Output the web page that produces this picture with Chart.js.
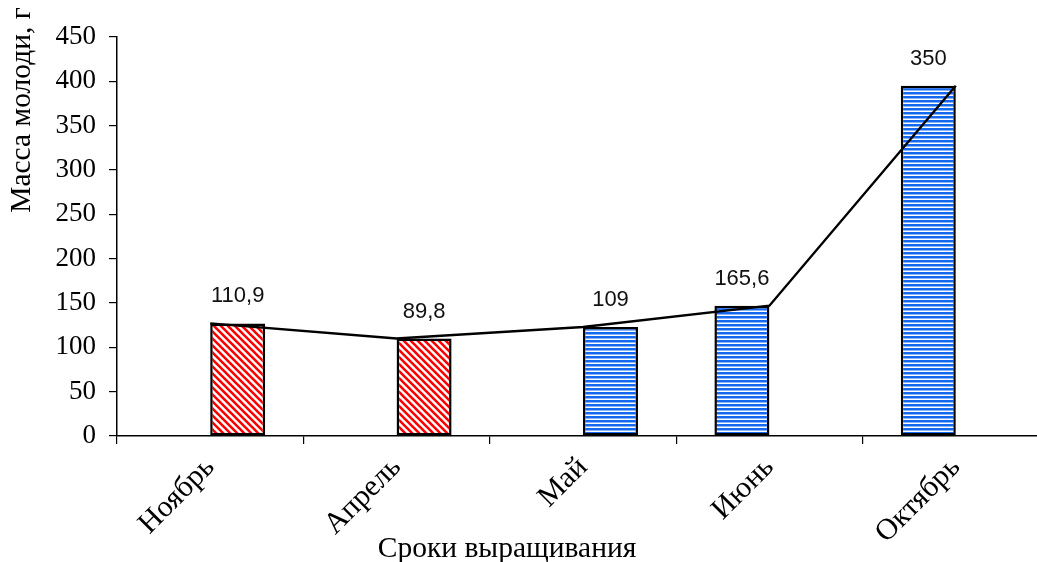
<!DOCTYPE html>
<html>
<head>
<meta charset="utf-8">
<script src="https://cdn.jsdelivr.net/npm/chart.js@4/dist/chart.umd.min.js"></script>
<style>
  html, body { margin: 0; padding: 0; background: #fff; overflow: hidden; }
  #wrap { width: 1037px; height: 562px; overflow: hidden; }
  canvas { display: block; }
</style>
</head>
<body>
<div id="wrap"><canvas id="chart" width="1062" height="562"></canvas></div>
<script>
// Growing periods (x categories)
const categories = ['Ноябрь', 'Апрель', 'Май', 'Июнь', 'Октябрь'];
// Fry mass, g — bars in the left slot of each group
const massLeftSlot = [null, null, null, 147, 395];
// Fry mass, g — bars in the right slot of each group
const massRightSlot = [127, 110, 123, null, null];
// Trend line through the bar tops
const trendLine = [127, 110, 123, 147, 395];
// Numbers printed above the bars
const barNotes = ['110,9', '89,8', '109', '165,6', '350'];
// Y axis range
const yMin = 0, yMax = 450, yStep = 50;

const axisTitleY = 'Масса молоди, г';
const axisTitleX = 'Сроки выращивания';

// Hatch fills
function redDiagonal() {
  const s = 7;
  const c = document.createElement('canvas');
  c.width = s; c.height = s;
  const g = c.getContext('2d');
  g.fillStyle = '#ffffff';
  g.fillRect(0, 0, s, s);
  g.strokeStyle = '#ff0000';
  g.lineWidth = 2.6;
  g.beginPath();
  g.moveTo(-1, -1); g.lineTo(s + 1, s + 1);
  g.moveTo(-1, s - 1); g.lineTo(1, s + 1);
  g.moveTo(s - 1, -1); g.lineTo(s + 1, 1);
  g.stroke();
  return g.createPattern(c, 'repeat');
}
function blueHorizontal() {
  const c = document.createElement('canvas');
  c.width = 4; c.height = 4;
  const g = c.getContext('2d');
  g.fillStyle = '#ffffff';
  g.fillRect(0, 0, 4, 4);
  g.fillStyle = '#1569f0';
  g.fillRect(0, 0, 4, 2.5);
  return g.createPattern(c, 'repeat');
}
const RED = redDiagonal();
const BLUE = blueHorizontal();
const fillFor = categories.map((_, i) => (i < 2 ? RED : BLUE));

const SERIF = '"Liberation Serif", "Times New Roman", serif';
const SANS = '"Liberation Sans", Arial, sans-serif';

// Numbers above bars
const notesPlugin = {
  id: 'barNotes',
  afterDatasetsDraw(chart) {
    const ctx = chart.ctx;
    ctx.save();
    ctx.font = '22px ' + SANS;
    ctx.fillStyle = '#111';
    ctx.textAlign = 'center';
    ctx.textBaseline = 'middle';
    categories.forEach((_, i) => {
      [1, 2].forEach(di => {
        const ds = chart.data.datasets[di];
        if (ds.data[i] == null) return;
        const bar = chart.getDatasetMeta(di).data[i];
        ctx.fillText(barNotes[i], bar.x, bar.y - 27);
      });
    });
    ctx.restore();
  }
};

// Axis titles
const titlesPlugin = {
  id: 'axisTitles',
  afterDraw(chart) {
    const ctx = chart.ctx;
    ctx.save();
    ctx.fillStyle = '#000';
    ctx.font = '29.5px ' + SERIF;
    ctx.textAlign = 'center';
    ctx.textBaseline = 'middle';
    ctx.fillText(axisTitleX, 507, 549);
    ctx.translate(22, 110);
    ctx.rotate(-Math.PI / 2);
    ctx.fillText(axisTitleY, 0, 0);
    ctx.restore();
  }
};

new Chart(document.getElementById('chart'), {
  data: {
    labels: categories,
    datasets: [
      {
        type: 'line',
        data: trendLine,
        borderColor: '#000',
        borderWidth: 2.4,
        pointRadius: 0,
        tension: 0,
        fill: false
      },
      {
        type: 'bar',
        data: massLeftSlot,
        backgroundColor: fillFor,
        borderColor: '#000',
        borderWidth: 2.5,
        borderSkipped: false
      },
      {
        type: 'bar',
        data: massRightSlot,
        backgroundColor: fillFor,
        borderColor: '#000',
        borderWidth: 2.5,
        borderSkipped: false
      }
    ]
  },
  options: {
    responsive: false,
    animation: false,
    datasets: { bar: { categoryPercentage: 0.59, barPercentage: 1.0 } },
    layout: { padding: { top: 37, right: 13, bottom: 0, left: 0 } },
    plugins: { legend: { display: false }, tooltip: { enabled: false } },
    scales: {
      x: {
        type: 'category',
        offset: true,
        grid: { display: true, drawOnChartArea: false, drawTicks: true, tickLength: 8, color: '#000', lineWidth: 1.2, offset: true },
        border: { display: true, color: '#000', width: 1.5 },
        ticks: { autoSkip: false, minRotation: 45, maxRotation: 45, padding: 6, color: '#000', font: { family: SERIF, size: 30 } },
        afterFit(scale) { scale.height = 126; }
      },
      y: {
        min: yMin,
        max: yMax,
        grid: { display: true, drawOnChartArea: false, drawTicks: true, tickLength: 8, color: '#000', lineWidth: 1.2 },
        border: { display: true, color: '#000', width: 1.5 },
        ticks: { stepSize: yStep, padding: 13, color: '#000', font: { family: SERIF, size: 27 } },
        afterFit(scale) { scale.width = 117; }
      }
    }
  },
  plugins: [notesPlugin, titlesPlugin]
});
</script>
</body>
</html>
